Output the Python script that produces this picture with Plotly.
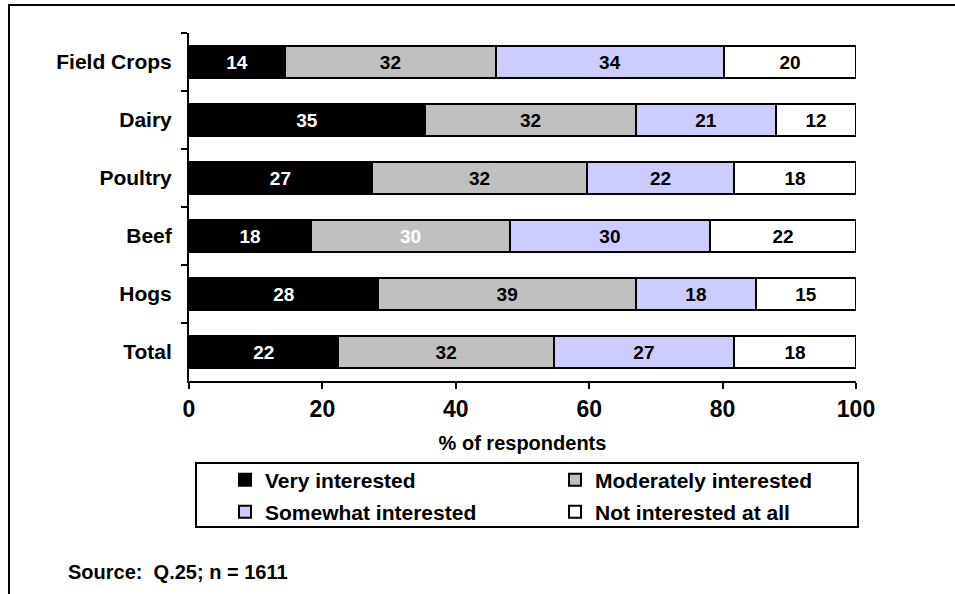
import plotly.graph_objects as go

# ---- data ----
categories = ["Field Crops", "Dairy", "Poultry", "Beef", "Hogs", "Total"]
very_interested = [14.4, 35.4, 27.4, 18.3, 28.4, 22.4]
moderately_interested = [31.6, 31.6, 32.3, 29.8, 38.6, 32.3]
somewhat_interested = [34.2, 21.0, 22.0, 30.0, 18.0, 27.0]
not_interested = [19.8, 12.0, 18.3, 21.9, 15.0, 18.3]
series_names = ["Very interested", "Moderately interested",
                "Somewhat interested", "Not interested at all"]
x_ticks = [0, 20, 40, 60, 80, 100]
axis_title = "% of respondents"
source_text = "Source:  Q.25; n = 1611"

# ---- layout geometry (page pixels; body margin removed via post_script) ----
W, H = 955, 594
L, R, T, B = 189, 99, 33, 213
PW, PH = W - L - R, H - T - B


def px_x(p):
    return (p - L) / PW


def px_y(p):
    return (H - B - p) / PH


FONT = "Liberation Sans, Arial, sans-serif"
fills = ["#000000", "#C0C0C0", "#CCCCFF", "#FFFFFF"]
text_colors = [
    ["#FFFFFF"] * len(categories),
    ["#FFFFFF" if c == "Beef" else "#000000" for c in categories],
    ["#000000"] * len(categories),
    ["#000000"] * len(categories),
]
legends = ["legend", "legend", "legend2", "legend2"]
values = [very_interested, moderately_interested, somewhat_interested, not_interested]

fig = go.Figure()
for name, vals, fill, tcol, lg in zip(series_names, values, fills, text_colors, legends):
    fig.add_trace(go.Bar(
        y=categories, x=vals, name=name, orientation="h",
        marker=dict(color=fill, line=dict(color="#000000", width=2)),
        texttemplate="%{x:.0f}", textposition="inside",
        insidetextanchor="middle", constraintext="none",
        textfont=dict(family=FONT, size=19, weight="bold", color=tcol),
        hoverinfo="skip", legend=lg,
    ))

shapes = [
    # outer frame (top and left edges visible)
    dict(type="rect", xref="paper", yref="paper",
         x0=px_x(9), x1=px_x(990), y0=px_y(5), y1=px_y(640),
         line=dict(color="#000000", width=2), fillcolor="rgba(0,0,0,0)", layer="below"),
    # legend box
    dict(type="rect", xref="paper", yref="paper",
         x0=px_x(196), x1=px_x(858), y0=px_y(463), y1=px_y(527),
         line=dict(color="#000000", width=2), fillcolor="rgba(0,0,0,0)"),
]

legend_common = dict(
    orientation="h", xanchor="left", yanchor="middle",
    entrywidth=285, entrywidthmode="pixels",
    font=dict(family=FONT, size=21, weight="bold", color="#000000"),
    bgcolor="rgba(0,0,0,0)", borderwidth=0, traceorder="normal",
)

fig.update_layout(
    width=W, height=H,
    margin=dict(l=L, r=R, t=T, b=B, pad=0),
    paper_bgcolor="#FFFFFF", plot_bgcolor="#FFFFFF",
    barmode="stack", bargap=0.45,
    font=dict(family=FONT, color="#000000"),
    showlegend=True,
    legend=dict(x=px_x(225), y=px_y(480), **legend_common),
    legend2=dict(x=px_x(225), y=px_y(512), **legend_common),
    shapes=shapes,
    annotations=[dict(
        text=source_text, xref="paper", yref="paper",
        x=px_x(66), y=px_y(572), xanchor="left", yanchor="middle",
        showarrow=False, font=dict(family=FONT, size=20, weight="bold", color="#000000"),
    )],
    xaxis=dict(
        range=[0, 100], tickvals=x_ticks, ticktext=[str(v) for v in x_ticks],
        showgrid=False, zeroline=False, showline=True, linecolor="#000000", linewidth=2,
        ticks="outside", ticklen=6, tickwidth=2, tickcolor="#000000",
        tickfont=dict(family=FONT, size=23, weight="bold", color="#000000"),
        title=dict(text=axis_title, standoff=15,
                   font=dict(family=FONT, size=20, weight="bold", color="#000000")),
        fixedrange=True,
    ),
    yaxis=dict(
        categoryorder="array", categoryarray=categories, autorange="reversed",
        showgrid=False, zeroline=False, showline=True, linecolor="#000000", linewidth=2,
        ticks="outside", ticklen=6, tickwidth=2, tickcolor="#000000", tickson="boundaries",
        ticklabelstandoff=11,
        tickfont=dict(family=FONT, size=21, weight="bold", color="#000000"),
        fixedrange=True,
    ),
)

fig.write_html(
    "out.html",
    config={"displayModeBar": False},
    post_script="document.body.style.margin='0';document.body.style.overflow='hidden';",
)
